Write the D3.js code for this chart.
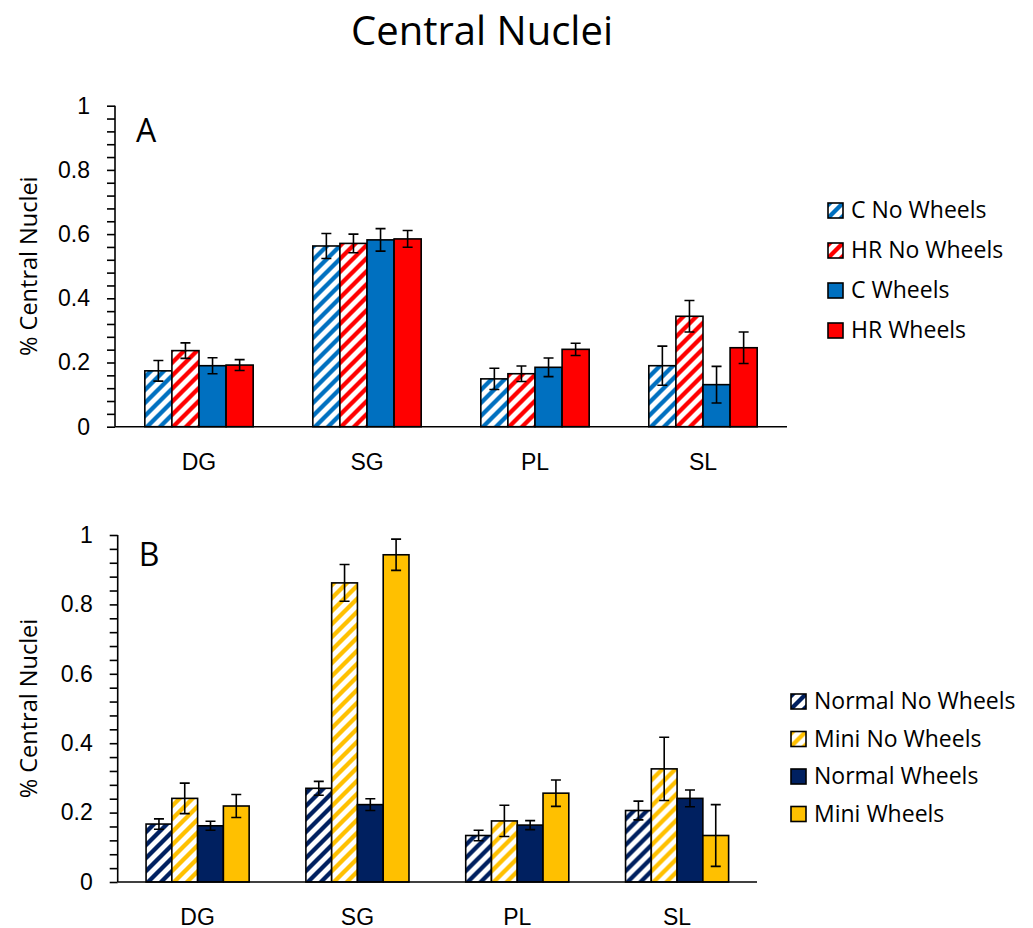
<!DOCTYPE html>
<html>
<head>
<meta charset="utf-8">
<script src="https://cdn.jsdelivr.net/npm/d3@7"></script>
<style>
  body { margin: 0; background: #fff; }
  svg { font-family: "Open Sans", sans-serif; }
  .axis path, .axis line { stroke: #000; stroke-width: 1.6; }
  .axis text { fill: #000; font-size: 23px; }
</style>
</head>
<body>
<script>
var categories = ["DG", "SG", "PL", "SL"];
var yTicks = [0, 0.2, 0.4, 0.6, 0.8, 1];

// panel A
var seriesA = ["C No Wheels", "HR No Wheels", "C Wheels", "HR Wheels"];
var cNoWheels = [0.174, 0.563, 0.149, 0.190];
var cNoWheelsErr = [0.032, 0.039, 0.033, 0.061];
var hrNoWheels = [0.237, 0.571, 0.165, 0.344];
var hrNoWheelsErr = [0.024, 0.029, 0.024, 0.049];
var cWheels = [0.190, 0.582, 0.185, 0.131];
var cWheelsErr = [0.025, 0.035, 0.029, 0.057];
var hrWheels = [0.192, 0.585, 0.241, 0.246];
var hrWheelsErr = [0.017, 0.026, 0.019, 0.049];

// panel B
var seriesB = ["Normal No Wheels", "Mini No Wheels", "Normal Wheels", "Mini Wheels"];
var normalNoWheels = [0.167, 0.270, 0.134, 0.206];
var normalNoWheelsErr = [0.015, 0.020, 0.015, 0.027];
var miniNoWheels = [0.241, 0.862, 0.176, 0.326];
var miniNoWheelsErr = [0.044, 0.053, 0.045, 0.091];
var normalWheels = [0.162, 0.223, 0.164, 0.241];
var normalWheelsErr = [0.013, 0.017, 0.013, 0.024];
var miniWheels = [0.219, 0.943, 0.256, 0.134];
var miniWheelsErr = [0.033, 0.045, 0.038, 0.089];

var blue = "#0070C0", red = "#FF0000", navy = "#002060", gold = "#FFC000";

var svg = d3.select("body").append("svg")
    .attr("width", 1033)
    .attr("height", 928);

var defs = svg.append("defs");
// diagonal "/" stripes on white
function stripes(id, color) {
    var p = defs.append("pattern")
        .attr("id", id)
        .attr("patternUnits", "userSpaceOnUse")
        .attr("width", 13)
        .attr("height", 13);
    p.append("rect").attr("width", 13).attr("height", 13).attr("fill", "#fff");
    p.append("path")
        .attr("d", "M-3,16 L16,-3 M-3,3 L3,-3 M10,16 L16,10")
        .attr("stroke", color)
        .attr("stroke-width", 4.3);
}
stripes("hBlue", blue);
stripes("hRed", red);
stripes("hNavy", navy);
stripes("hGold", gold);

svg.append("text")
    .attr("x", 482)
    .attr("y", 45)
    .attr("text-anchor", "middle")
    .style("font-size", "40px")
    .text("Central Nuclei");

function drawPanel(cfg) {
    var x0 = d3.scaleBand()
        .domain(categories)
        .range([cfg.left, cfg.right])
        .paddingInner(0.355)
        .paddingOuter(0.1775);

    var x1 = d3.scaleBand()
        .domain(d3.range(cfg.series.length))
        .range([0, x0.bandwidth()]);

    var y = d3.scaleLinear()
        .domain([0, 1])
        .range([cfg.bottom, cfg.top]);

    var g = svg.append("g");

    // y axis with minor ticks every 0.04
    var yAxis = d3.axisLeft(y)
        .tickValues(d3.range(0, 26).map(function (i) { return i * 0.04; }))
        .tickSize(8)
        .tickPadding(17)
        .tickFormat(function (d) {
            var r = Math.round(d * 100) / 100;
            return yTicks.some(function (t) { return Math.abs(t - r) < 1e-6; }) ? d3.format("")(r) : "";
        });
    g.append("g")
        .attr("class", "axis")
        .attr("transform", "translate(" + cfg.left + ",0)")
        .call(yAxis)
        .call(function (a) { a.select(".domain").attr("d", "M0," + cfg.bottom + "V" + cfg.top); });

    g.append("text")
        .attr("transform", "translate(" + cfg.labelX + "," + ((cfg.top + cfg.bottom) / 2) + ")rotate(-90)")
        .attr("text-anchor", "middle")
        .style("font-size", "23.5px")
        .text("% Central Nuclei");

    g.append("text")
        .attr("x", cfg.left + 21)
        .attr("y", cfg.letterY)
        .style("font-size", "32px")
        .text(cfg.letter);

    var groups = g.selectAll(".grp")
        .data(categories)
        .enter().append("g")
        .attr("class", "grp")
        .attr("transform", function (d) { return "translate(" + x0(d) + ",0)"; });

    var cells = groups.selectAll(".bar")
        .data(function (d, ci) {
            return cfg.values.map(function (vals, si) {
                return { s: si, v: vals[ci], e: cfg.errors[si][ci] };
            });
        })
        .enter().append("g");

    cells.append("rect")
        .attr("x", function (d) { return x1(d.s); })
        .attr("y", function (d) { return y(d.v); })
        .attr("width", x1.bandwidth())
        .attr("height", function (d) { return y(0) - y(d.v); })
        .attr("fill", function (d) { return cfg.fills[d.s]; })
        .attr("stroke", "#000")
        .attr("stroke-width", 1.6);

    var eb = cells.append("g")
        .attr("stroke", "#000")
        .attr("stroke-width", 1.6)
        .attr("fill", "none");
    eb.append("path")
        .attr("d", function (d) {
            var cx = x1(d.s) + x1.bandwidth() / 2;
            var lo = y(d.v - d.e), hi = y(d.v + d.e);
            return "M" + cx + "," + lo + "V" + hi +
                "M" + (cx - 5) + "," + hi + "H" + (cx + 5) +
                "M" + (cx - 5) + "," + lo + "H" + (cx + 5);
        });

    // category axis
    g.append("g")
        .attr("class", "axis")
        .attr("transform", "translate(0," + cfg.bottom + ")")
        .call(d3.axisBottom(x0).tickSize(0).tickPadding(27))
        .call(function (a) { a.select(".domain").attr("d", "M" + cfg.left + ",0H" + cfg.right); });

    // legend
    var leg = g.selectAll(".leg")
        .data(cfg.series)
        .enter().append("g")
        .attr("class", "leg")
        .attr("transform", function (d, i) { return "translate(" + cfg.legX + "," + (cfg.legY + i * cfg.legStep) + ")"; });
    leg.append("rect")
        .attr("x", 0)
        .attr("y", -15)
        .attr("width", 15)
        .attr("height", 15)
        .attr("fill", function (d, i) { return cfg.fills[i]; })
        .attr("stroke", "#000")
        .attr("stroke-width", 1.6);
    leg.append("text")
        .attr("x", 23)
        .attr("y", 0)
        .style("font-size", "23px")
        .text(function (d) { return d; });
}

drawPanel({
    letter: "A", letterY: 142,
    left: 115, right: 787, top: 105.7, bottom: 426.7, labelX: 37,
    series: seriesA,
    values: [cNoWheels, hrNoWheels, cWheels, hrWheels],
    errors: [cNoWheelsErr, hrNoWheelsErr, cWheelsErr, hrWheelsErr],
    fills: ["url(#hBlue)", "url(#hRed)", blue, red],
    legX: 828, legY: 218, legStep: 40
});

drawPanel({
    letter: "B", letterY: 566,
    left: 117.7, right: 757, top: 535, bottom: 882, labelX: 37,
    series: seriesB,
    values: [normalNoWheels, miniNoWheels, normalWheels, miniWheels],
    errors: [normalNoWheelsErr, miniNoWheelsErr, normalWheelsErr, miniWheelsErr],
    fills: ["url(#hNavy)", "url(#hGold)", navy, gold],
    legX: 791, legY: 709, legStep: 37.5
});
</script>
</body>
</html>
